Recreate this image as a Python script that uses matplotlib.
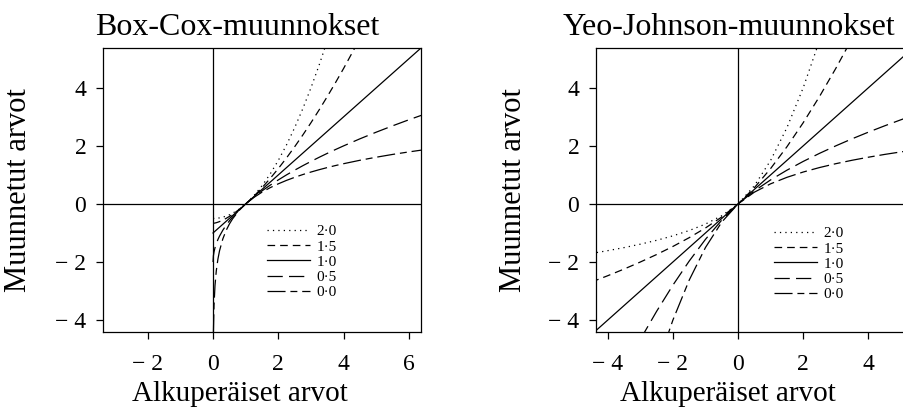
import numpy as np
import matplotlib
matplotlib.use('Agg')
import matplotlib.pyplot as plt

nan = np.nan

# Box-Cox curves
bc_x = [0, 0.012, 0.03, 0.06, 0.1, 0.15, 0.2, 0.3, 0.4, 0.5, 0.6, 0.8, 1.0, 1.25, 1.5,
        1.75, 2.0, 2.25, 2.5, 2.75, 3.0, 3.25, 3.5, 3.75, 4.0, 4.5, 5.0, 5.5, 6.0, 6.5]
bc_20 = [-0.5, -0.5, -0.5, -0.498, -0.495, -0.489, -0.48, -0.455, -0.42, -0.375, -0.32, -0.18, 0.0,
         0.281, 0.625, 1.031, 1.5, 2.031, 2.625, 3.281, 4.0, 4.781, 5.625, 6.531,
         nan, nan, nan, nan, nan, nan]
bc_15 = [-0.667, -0.666, -0.663, -0.657, -0.646, -0.628, -0.607, -0.557, -0.498, -0.431, -0.357, -0.19, 0.0,
         0.265, 0.558, 0.877, 1.219, 1.583, 1.969, 2.374, 2.797, 3.239, 3.699, 4.175, 4.667, 5.697,
         nan, nan, nan, nan]
bc_10 = [-1.0, -0.988, -0.97, -0.94, -0.9, -0.85, -0.8, -0.7, -0.6, -0.5, -0.4, -0.2, 0.0,
         0.25, 0.5, 0.75, 1.0, 1.25, 1.5, 1.75, 2.0, 2.25, 2.5, 2.75, 3.0, 3.5, 4.0, 4.5, 5.0, 5.5]
bc_05 = [-2.0, -1.781, -1.654, -1.51, -1.368, -1.225, -1.106, -0.905, -0.735, -0.586, -0.451, -0.211, 0.0,
         0.236, 0.449, 0.646, 0.828, 1.0, 1.162, 1.317, 1.464, 1.606, 1.742, 1.873, 2.0, 2.243,
         2.472, 2.69, 2.899, 3.099]
bc_00 = [nan, -4.423, -3.507, -2.813, -2.303, -1.897, -1.609, -1.204, -0.916, -0.693, -0.511, -0.223, 0.0,
         0.223, 0.405, 0.56, 0.693, 0.811, 0.916, 1.012, 1.099, 1.179, 1.253, 1.322, 1.386, 1.504,
         1.609, 1.705, 1.792, 1.872]

# Yeo-Johnson curves
yj_x = [-4.5, -4.0, -3.5, -3.0, -2.5, -2.0, -1.5, -1.0, -0.5, 0.0, 0.5, 1.0, 1.5, 2.0, 2.5,
        3.0, 3.5, 4.0, 4.5, 5.0, 5.5]
yj_20 = [-1.705, -1.609, -1.504, -1.386, -1.253, -1.099, -0.916, -0.693, -0.405, 0.0,
         0.625, 1.5, 2.625, 4.0, 5.625, 7.5, nan, nan, nan, nan, nan]
yj_15 = [-2.69, -2.472, -2.243, -2.0, -1.742, -1.464, -1.162, -0.828, -0.449, 0.0,
         0.558, 1.219, 1.969, 2.797, 3.699, 4.667, 5.697, 6.787, nan, nan, nan]
yj_10 = [-4.5, -4.0, -3.5, -3.0, -2.5, -2.0, -1.5, -1.0, -0.5, 0.0,
         0.5, 1.0, 1.5, 2.0, 2.5, 3.0, 3.5, 4.0, 4.5, 5.0, 5.5]
yj_05 = [nan, nan, nan, -4.667, -3.699, -2.797, -1.969, -1.219, -0.558, 0.0,
         0.449, 0.828, 1.162, 1.464, 1.742, 2.0, 2.243, 2.472, 2.69, 2.899, 3.099]
yj_00 = [nan, nan, nan, -7.5, -5.625, -4.0, -2.625, -1.5, -0.625, 0.0,
         0.405, 0.693, 0.916, 1.099, 1.253, 1.386, 1.504, 1.609, 1.705, 1.792, 1.872]

labels = ['2·0', '1·5', '1·0', '0·5', '0·0']
titles = ['Box-Cox-muunnokset', 'Yeo-Johnson-muunnokset']
xlabel = 'Alkuperäiset arvot'
ylabel = 'Muunnetut arvot'
bc_xticks = [-2, 0, 2, 4, 6]
bc_xticklabels = ['\u2212 2', '0', '2', '4', '6']
yj_xticks = [-4, -2, 0, 2, 4]
yj_xticklabels = ['\u2212 4', '\u2212 2', '0', '2', '4']
yticks = [-4, -2, 0, 2, 4]
yticklabels = ['\u2212 4', '\u2212 2', '0', '2', '4']

plt.rcParams['font.family'] = ['Liberation Serif', 'DejaVu Serif']
plt.rcParams['lines.scale_dashes'] = False

styles = [(0, (0.9, 3.0)),
          (0, (5.5, 3.6)),
          '-',
          (0, (11, 4.5)),
          (0, (13, 3.5, 5, 3.5))]

W, H = 904, 411
fig = plt.figure(figsize=(W / 100, H / 100), dpi=100)


def px_axes(left, top, right, bottom):
    return fig.add_axes([left / W, 1 - bottom / H, (right - left) / W, (bottom - top) / H])


ax1 = px_axes(103, 48, 421, 332)
ax2 = px_axes(596, 48, 913, 332)

panels = [
    (ax1, bc_x, [bc_20, bc_15, bc_10, bc_05, bc_00], (-3.37, 6.37), bc_xticks, bc_xticklabels),
    (ax2, yj_x, [yj_20, yj_15, yj_10, yj_05, yj_00], (-4.36, 5.37), yj_xticks, yj_xticklabels),
]

for ax, xs, curves, xlim, xt, xtl in panels:
    ax.axhline(0, color='black', lw=0.9, zorder=1)
    ax.axvline(0, color='black', lw=0.9, zorder=1)
    for ys, ls, lab in zip(curves, styles, labels):
        ax.plot(xs, ys, color='black', lw=0.9, linestyle=ls, label=lab)
    ax.set_xlim(*xlim)
    ax.set_ylim(-4.41, 5.37)
    ax.set_xticks(xt)
    ax.set_xticklabels(xtl)
    ax.set_yticks(yticks)
    ax.set_yticklabels(yticklabels)
    ax.tick_params(direction='out', length=5, width=0.9, labelsize=17)
    ax.tick_params(axis='x', pad=11)
    ax.tick_params(axis='y', pad=7)
    for s in ax.spines.values():
        s.set_linewidth(0.9)
    ax.set_xlabel(xlabel, fontsize=21)
    ax.set_ylabel(ylabel, fontsize=22)

ax1.xaxis.set_label_coords(0.43, -0.172)
ax2.xaxis.set_label_coords(0.416, -0.172)
ax1.yaxis.set_label_coords(-0.22, 0.5)
ax2.yaxis.set_label_coords(-0.215, 0.5)

ax1.legend(loc='upper left', bbox_to_anchor=(0.515, 0.378), frameon=False, fontsize=11,
           handlelength=2.8, handletextpad=0.45, labelspacing=0.1, borderpad=0, borderaxespad=0)
ax2.legend(loc='upper left', bbox_to_anchor=(0.562, 0.371), frameon=False, fontsize=11,
           handlelength=2.8, handletextpad=0.45, labelspacing=0.1, borderpad=0, borderaxespad=0)

fig.text(95 / W, 1 - 35 / H, titles[0], fontsize=23, va='baseline', ha='left')
fig.text(563 / W, 1 - 35 / H, titles[1], fontsize=23, va='baseline', ha='left')

fig.savefig('out.png', dpi=100)
